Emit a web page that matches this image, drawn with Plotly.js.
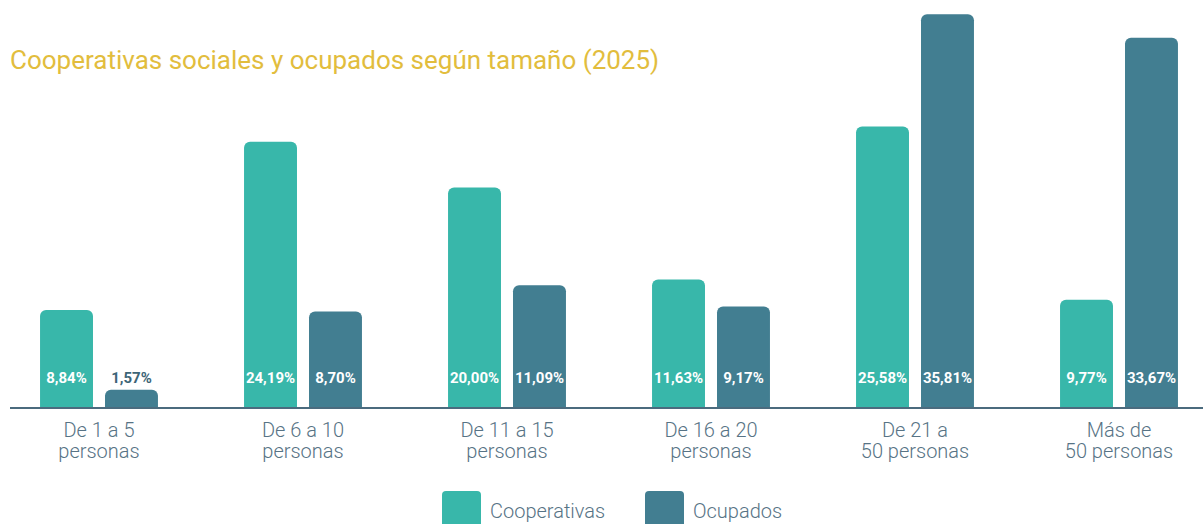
<!DOCTYPE html>
<html>
<head>
<meta charset="utf-8">
<script src="https://cdn.plot.ly/plotly-3.0.1.min.js"></script>
<style>html,body{margin:0;padding:0;background:#fff;}#chart{width:1203px;height:524px;}</style>
</head>
<body>
<div id="chart"></div>
<script>
const categories = ['De 1 a 5 personas', 'De 6 a 10 personas', 'De 11 a 15 personas', 'De 16 a 20 personas', 'De 21 a 50 personas', 'Más de 50 personas'];
const tickLine1 = ['De 1 a 5', 'De 6 a 10', 'De 11 a 15', 'De 16 a 20', 'De 21 a', 'Más de'];
const tickLine2 = ['personas', 'personas', 'personas', 'personas', '50 personas', '50 personas'];
const seriesNames = ['Cooperativas', 'Ocupados'];
const cooperativas = [8.84, 24.19, 20.00, 11.63, 25.58, 9.77];
const ocupados = [1.57, 8.70, 11.09, 9.17, 35.81, 33.67];

const colors = ['#38b7aa', '#427e91'];
const textGrey = '#577385';
const W = 1203, H = 524, ML = 10, MR = 0, MT = 0, MB = 117;
const PW = W - ML - MR, PH = H - MT - MB;
const catPx = 204, firstCenter = 99;
const xr = [-(firstCenter - ML) / catPx, (W - MR - firstCenter) / catPx];
const yr = [0, 37.1];
const labelY = 2.5;

const fmt = v => v.toFixed(2).replace('.', ',') + '%';
const series = [cooperativas, ocupados];

const traces = [];
series.forEach((vals, i) => {
  traces.push({
    type: 'bar', x: categories, y: vals, name: seriesNames[i],
    marker: {color: colors[i], line: {width: 0}},
    offsetgroup: String(i), showlegend: false, hoverinfo: 'skip'
  });
});
series.forEach((vals, i) => {
  traces.push({
    type: 'scatter', mode: 'text', x: categories, y: vals.map(() => labelY),
    text: vals.map(fmt), offsetgroup: String(i), showlegend: false, hoverinfo: 'skip',
    textposition: 'middle center',
    textfont: {family: 'Roboto', size: 15, weight: 700, color: vals.map(v => v < 3 ? '#3d6577' : '#ffffff')}
  });
});
// invisible carrier trace so the second tick row (xaxis2) is drawn
traces.push({
  type: 'scatter', mode: 'markers', xaxis: 'x2', yaxis: 'y',
  x: categories.map((_, i) => i), y: categories.map(() => 0),
  marker: {opacity: 0, size: 1}, showlegend: false, hoverinfo: 'skip'
});

const px2x = p => (p - ML) / PW;
const px2y = p => (H - MB - p) / PH;
function roundRect(x0, y0, x1, y1, r) {
  const X = px2x, Y = px2y;
  return `M${X(x0 + r)},${Y(y0)} L${X(x1 - r)},${Y(y0)} Q${X(x1)},${Y(y0)} ${X(x1)},${Y(y0 + r)} ` +
    `L${X(x1)},${Y(y1 - r)} Q${X(x1)},${Y(y1)} ${X(x1 - r)},${Y(y1)} L${X(x0 + r)},${Y(y1)} ` +
    `Q${X(x0)},${Y(y1)} ${X(x0)},${Y(y1 - r)} L${X(x0)},${Y(y0 + r)} Q${X(x0)},${Y(y0)} ${X(x0 + r)},${Y(y0)} Z`;
}
const legendX = [442, 645];
const shapes = legendX.map((lx, i) => ({
  type: 'path', xref: 'paper', yref: 'paper', path: roundRect(lx, 491, lx + 39, 534, 4),
  fillcolor: colors[i], line: {width: 0}
}));
const annotations = legendX.map((lx, i) => ({
  xref: 'paper', yref: 'paper', x: px2x(lx + 46), y: px2y(511), xanchor: 'left', yanchor: 'middle',
  text: seriesNames[i], showarrow: false, font: {family: 'Roboto', size: 20, weight: 300, color: textGrey}
}));

const tickFont = {family: 'Roboto', size: 20, weight: 300, color: textGrey};
const layout = {
  width: W, height: H,
  margin: {l: ML, r: MR, t: MT, b: MB},
  paper_bgcolor: '#ffffff', plot_bgcolor: '#ffffff',
  barmode: 'group', bargap: 0.363, bargroupgap: 0.185, barcornerradius: 6,
  scattermode: 'group', scattergap: 0.363,
  showlegend: false,
  title: {text: 'Cooperativas sociales y ocupados según tamaño (2025)', x: 10 / W, xanchor: 'left', xref: 'container',
    y: 1 - 60 / H, yanchor: 'middle', yref: 'container', font: {family: 'Roboto', size: 26, color: '#e2bd3d'}},
  xaxis: {type: 'category', range: xr, tickvals: categories, ticktext: tickLine1, showgrid: false, zeroline: false,
    showline: true, linecolor: '#4b6b7e', linewidth: 2, ticks: '', ticklabelstandoff: 4, tickfont: tickFont,
    fixedrange: true},
  xaxis2: {overlaying: 'x', anchor: 'y', side: 'bottom', type: 'linear', range: xr,
    tickvals: categories.map((_, i) => i), ticktext: tickLine2, showgrid: false, zeroline: false, showline: false,
    ticks: '', ticklabelstandoff: 30, tickfont: tickFont, fixedrange: true},
  yaxis: {range: yr, visible: false, showgrid: false, zeroline: false, fixedrange: true},
  shapes: shapes, annotations: annotations
};

Plotly.newPlot('chart', traces, layout, {displayModeBar: false, staticPlot: true});
</script>
</body>
</html>
